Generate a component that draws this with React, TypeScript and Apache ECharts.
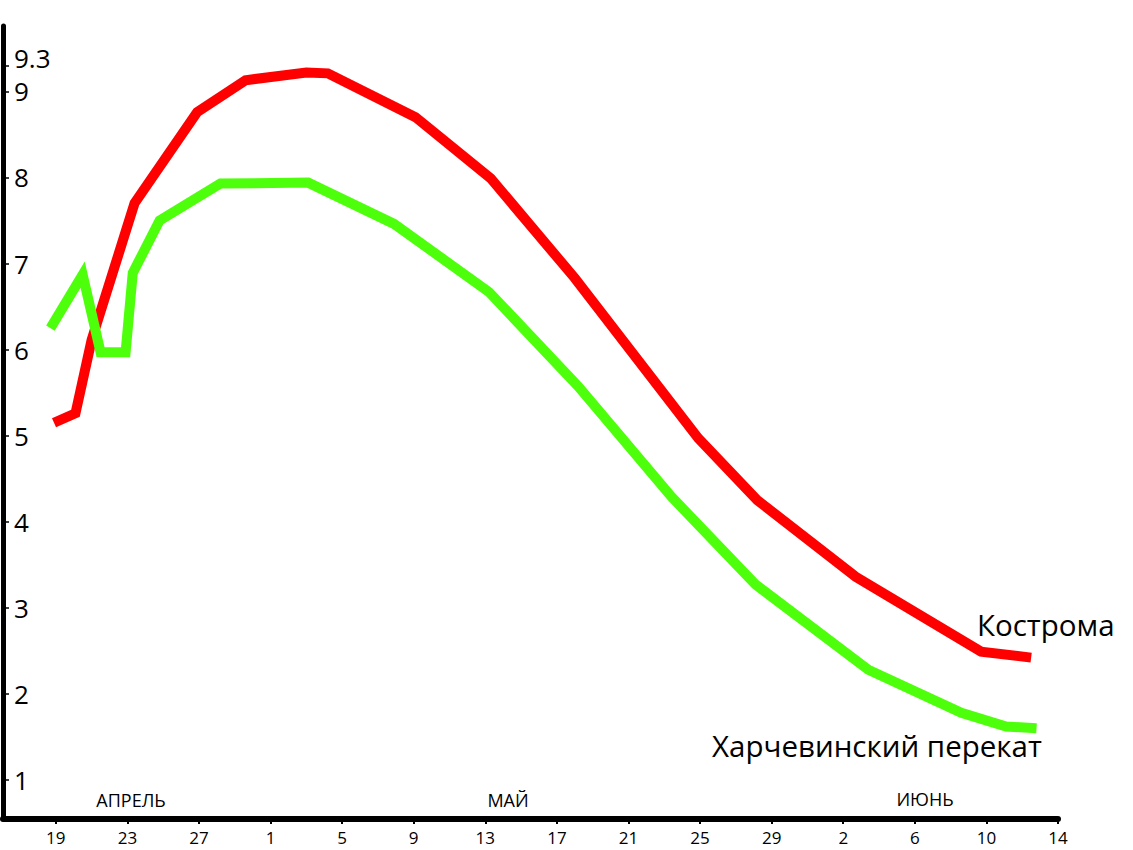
import React, { useEffect, useRef } from "react";
import * as echarts from "echarts";

// Day offsets counted from 19 April
const tickDays = [0, 4, 8, 12, 16, 20, 24, 28, 32, 36, 40, 44, 48, 52, 56];
const tickLabels = ["19", "23", "27", "1", "5", "9", "13", "17", "21", "25", "29", "2", "6", "10", "14"];
const yTickValues = [1, 2, 3, 4, 5, 6, 7, 8, 9];
const yTopTick = [9.3];

const kostromaDays = [-0.1, 1.1, 2.0, 4.4, 7.9, 10.6, 14.0, 15.2, 20.1, 24.3, 29.0, 35.9, 39.2, 44.7, 51.7, 54.5];
const kostromaLevels = [5.15, 5.26, 6.11, 7.7, 8.76, 9.13, 9.22, 9.21, 8.7, 7.99, 6.83, 4.97, 4.25, 3.36, 2.49, 2.42];

const kharchDays = [-0.3, 1.5, 2.5, 3.9, 4.3, 5.8, 9.2, 14.1, 18.9, 24.2, 29.2, 34.4, 39.1, 45.4, 50.6, 53.1, 54.8];
const kharchLevels = [6.25, 6.87, 5.97, 5.97, 6.89, 7.5, 7.93, 7.94, 7.46, 6.67, 5.57, 4.29, 3.27, 2.28, 1.78, 1.62, 1.6];

const monthNames = ["АПРЕЛЬ", "МАЙ", "ИЮНЬ"];
const seriesNames = ["Кострома", "Харчевинский перекат"];

const FONT = "'Open Sans', 'Noto Sans', sans-serif";
const Y_MIN = 0.545;
const Y_MAX = 9.76;

export default function App() {
  const ref = useRef<HTMLDivElement>(null);
  useEffect(() => {
    if (!ref.current) return;
    const chart = echarts.init(ref.current, undefined, { renderer: "svg" });
    const zip = (xs: number[], ys: number[]) => xs.map((x, i) => [x, ys[i]]);
    chart.setOption({
      animation: false,
      backgroundColor: "#ffffff",
      grid: { left: 3, right: 75, top: 26, bottom: 31, containLabel: false },
      xAxis: {
        type: "value",
        min: -2.95,
        max: 56,
        splitLine: { show: false },
        axisLine: { show: true, onZero: false, lineStyle: { color: "#000", width: 6 } },
        axisTick: { show: true, customValues: tickDays, length: 5, lineStyle: { color: "#000", width: 2 } },
        axisLabel: {
          customValues: tickDays,
          margin: 10,
          color: "#000",
          fontSize: 17,
          fontFamily: FONT,
          showMinLabel: true,
          showMaxLabel: true,
          formatter: (v: number) => {
            const i = tickDays.indexOf(Math.round(v));
            return i >= 0 ? tickLabels[i] : "";
          },
        },
      },
      yAxis: [
        {
          type: "value",
          position: "left",
          min: Y_MIN,
          max: Y_MAX,
          splitLine: { show: false },
          axisLine: { show: true, onZero: false, lineStyle: { color: "#000", width: 5 } },
          axisTick: {
            show: true,
            inside: true,
            customValues: yTickValues.concat(yTopTick),
            length: 6,
            lineStyle: { color: "#000", width: 1.5 },
          },
          axisLabel: {
            inside: true,
            customValues: yTickValues,
            margin: 11,
            color: "#000",
            fontSize: 26,
            fontFamily: FONT,
            showMinLabel: true,
            showMaxLabel: true,
            formatter: (v: number) => String(v),
          },
        },
        {
          type: "value",
          position: "left",
          offset: 0,
          min: Y_MIN,
          max: Y_MAX,
          splitLine: { show: false },
          axisLine: { show: false },
          axisTick: { show: false },
          axisLabel: {
            inside: true,
            customValues: yTopTick,
            margin: 11,
            color: "#000",
            fontSize: 26,
            fontFamily: FONT,
            showMinLabel: true,
            showMaxLabel: true,
            formatter: "{hi|{value}}",
            rich: {
              hi: { fontSize: 26, fontFamily: FONT, color: "#000", padding: [0, 0, 16, 0] },
            },
          },
        },
      ],
      series: [
        {
          name: seriesNames[0],
          type: "line",
          yAxisIndex: 0,
          data: zip(kostromaDays, kostromaLevels),
          showSymbol: false,
          lineStyle: { color: "#ff0000", width: 10, join: "miter", cap: "butt" },
          itemStyle: { color: "#ff0000" },
        },
        {
          name: seriesNames[1],
          type: "line",
          yAxisIndex: 0,
          data: zip(kharchDays, kharchLevels),
          showSymbol: false,
          lineStyle: { color: "#4dff0a", width: 10, join: "miter", cap: "butt" },
          itemStyle: { color: "#4dff0a" },
        },
      ],
      graphic: [
        { type: "text", left: 977, top: 609, style: { text: seriesNames[0], fontSize: 29.5, fontFamily: FONT, fill: "#000" } },
        { type: "text", left: 712, top: 730, style: { text: seriesNames[1], fontSize: 29.5, fontFamily: FONT, fill: "#000" } },
        { type: "text", x: 131, y: 800, style: { text: monthNames[0], fontSize: 18, fontFamily: FONT, fill: "#000", align: "center", verticalAlign: "middle" } },
        { type: "text", x: 508, y: 800, style: { text: monthNames[1], fontSize: 18, fontFamily: FONT, fill: "#000", align: "center", verticalAlign: "middle" } },
        { type: "text", x: 925, y: 799, style: { text: monthNames[2], fontSize: 18, fontFamily: FONT, fill: "#000", align: "center", verticalAlign: "middle" } },
      ],
    });
    return () => chart.dispose();
  }, []);
  return (
    <div
      ref={ref}
      style={{ position: "absolute", left: 0, top: 0, width: 1133, height: 850, background: "#fff" }}
    />
  );
}
